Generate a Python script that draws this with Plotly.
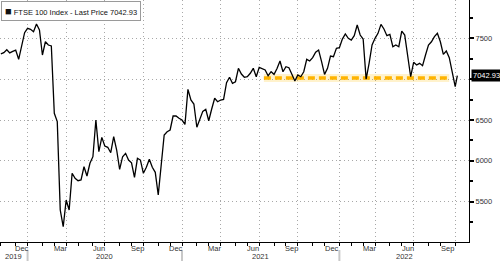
import pandas as pd
import plotly.graph_objects as go

# ---- data (weekly closes) ----
start_date = "2019-10-25"
weekly_values = [
    7310, 7325, 7360, 7322, 7340, 7355, 7243, 7397, 7569, 7622,
    7610, 7581, 7675, 7602, 7296, 7458, 7418, 7406, 6582, 6480,
    5398, 5194, 5521, 5398, 5848, 5786, 5757, 5766, 5928, 5815,
    5970, 6051, 6500, 6112, 6288, 6182, 6166, 6100, 6296, 6133,
    5897, 6051, 6092, 6010, 5977, 5799, 6031, 6010, 5848, 5921,
    6019, 5921, 5860, 5582, 5950, 6316, 6357, 6378, 6549, 6549,
    6521, 6500, 6447, 6876, 6745, 6696, 6411, 6521, 6606, 6631,
    6491, 6635, 6766, 6724, 6745, 6753, 6957, 7023, 6949, 6969,
    7133, 7063, 7023, 7030, 7072, 7133, 7030, 7145, 7133, 7112,
    7042, 7091, 7059, 7130, 7222, 7091, 7152, 7140, 7059, 6977,
    7051, 7030, 7091, 7243, 7222, 7263, 7329, 7357, 7214, 7059,
    7133, 7283, 7275, 7378, 7385, 7491, 7553, 7500, 7479, 7532,
    7663, 7540, 7491, 7000, 7194, 7418, 7500, 7561, 7671, 7614,
    7532, 7549, 7397, 7418, 7397, 7589, 7540, 7304, 7030, 7206,
    7173, 7194, 7165, 7296, 7418, 7458, 7520, 7561, 7458, 7304,
    7345, 7263, 7072, 6908,
]
last_date = "2022-10-05"
last_price = 7042.93

support_level = 7015
support_start = "2021-07-06"
support_end = "2022-09-16"

y_ticks = [5500, 6000, 6500, 7000, 7500]
y_tick_text = ["5500", "6000", "6500", "", "7500"]  # 7000 hidden behind last-price tag
y_minor = [5250, 5750, 6250, 6750, 7250, 7750]

quarter_months = {12: "Dec", 3: "Mar", 6: "Jun", 9: "Sep"}
title_text = "FTSE 100 Index - Last Price 7042.93"

# ---- build series ----
dates = list(pd.date_range(start_date, periods=len(weekly_values), freq="7D"))
dates.append(pd.Timestamp(last_date))
values = weekly_values + [last_price]

s = pd.Series(values[:-1], index=dates[:-1])
month_ends = s.groupby([s.index.year, s.index.month]).apply(lambda g: g.index.max()).tolist()
quarter_ends = [d for d in month_ends if d.month in quarter_months]

label_pos = []
for i, d in enumerate(month_ends):
    if d.month in quarter_months:
        prev = month_ends[i - 1] if i > 0 else d - pd.Timedelta(days=28)
        label_pos.append((prev + (d - prev) / 2, quarter_months[d.month]))

x_range = [pd.Timestamp("2019-10-23"), pd.Timestamp("2022-11-01 12:00")]
y_range = [5007, 7969]

fig = go.Figure()
fig.add_trace(go.Scatter(
    x=[support_start, support_end], y=[support_level, support_level],
    mode="lines", line=dict(color="rgba(255,190,0,0.20)", width=8),
    hoverinfo="skip", showlegend=False))
fig.add_trace(go.Scatter(
    x=[support_start, support_end], y=[support_level, support_level],
    mode="lines", line=dict(color="#FFB400", width=3.5, dash="7px,4px"),
    hoverinfo="skip", showlegend=False))
fig.add_trace(go.Scatter(
    x=dates, y=values, mode="lines",
    line=dict(color="#000000", width=1.3), showlegend=False))

grid_color = "#a8a8a8"
grid_dash = "1px,3px"
fig.update_layout(
    width=500, height=261,
    margin=dict(l=0, r=31, t=0, b=19),
    paper_bgcolor="white", plot_bgcolor="white",
    font=dict(family="Liberation Sans, Arial, sans-serif", size=7.5, color="#222"),
    xaxis=dict(
        type="date", range=x_range,
        tickmode="array", tickvals=quarter_ends, showticklabels=False,
        showgrid=True, gridcolor=grid_color, griddash=grid_dash, gridwidth=1,
        ticks="outside", ticklen=3, tickcolor="#000", tickwidth=1,
        minor=dict(tickmode="array", tickvals=month_ends, ticks="outside",
                   ticklen=3, tickcolor="#000", showgrid=False),
        showline=True, linecolor="#000", linewidth=1,
        zeroline=False, fixedrange=True,
    ),
    yaxis=dict(
        side="right", range=y_range,
        tickmode="array", tickvals=y_ticks, ticktext=y_tick_text,
        showgrid=True, gridcolor=grid_color, griddash=grid_dash, gridwidth=1,
        ticks="outside", ticklen=4, tickcolor="#000", tickwidth=1.5,
        minor=dict(tickmode="array", tickvals=y_minor, ticks="outside",
                   ticklen=3, tickcolor="#000", showgrid=False),
        showline=True, linecolor="#000", linewidth=1,
        zeroline=False, fixedrange=True,
        tickfont=dict(size=7.5, color="#333"),
    ),
)

annotations = []
for pos, txt in label_pos:
    annotations.append(dict(x=pos, y=-0.026, xref="x", yref="paper", text=txt,
                            showarrow=False, yanchor="middle",
                            font=dict(size=7.5, color="#333")))

years = sorted(set(d.year for d in dates))
for yr in years:
    prev_q = [d for d in month_ends if d.year == yr - 1 and d.month == 12]
    this_q = [d for d in month_ends if d.year == yr and d.month == 12]
    left = prev_q[0] if prev_q else x_range[0]
    right = this_q[0] if this_q else x_range[1]
    annotations.append(dict(x=left + (right - left) / 2, y=-0.061, xref="x", yref="paper",
                            text=str(yr), showarrow=False, yanchor="middle",
                            font=dict(size=7.5, color="#333")))

annotations.append(dict(x=0.003, y=0.996, xref="paper", yref="paper",
                        xanchor="left", yanchor="top", showarrow=False,
                        text="<span style='font-size:11px'>■</span> " + title_text, align="left",
                        bgcolor="white", bordercolor="#9a9a9a", borderwidth=1,
                        borderpad=3, font=dict(size=7.5, color="#111")))
annotations.append(dict(x=1.0, y=last_price, xref="paper", yref="y",
                        xanchor="left", yanchor="middle", showarrow=False,
                        xshift=2, text=str(last_price), bgcolor="black",
                        borderpad=1, font=dict(size=7.5, color="white")))
fig.update_layout(annotations=annotations)

shapes = []
for d in month_ends:
    if d.month == 12:
        shapes.append(dict(type="line", xref="x", yref="paper", x0=d, x1=d,
                           y0=-0.033, y1=-0.08, line=dict(color="#c8c8c8", width=2)))
fig.update_layout(shapes=shapes)

fig.write_html("out.html")
